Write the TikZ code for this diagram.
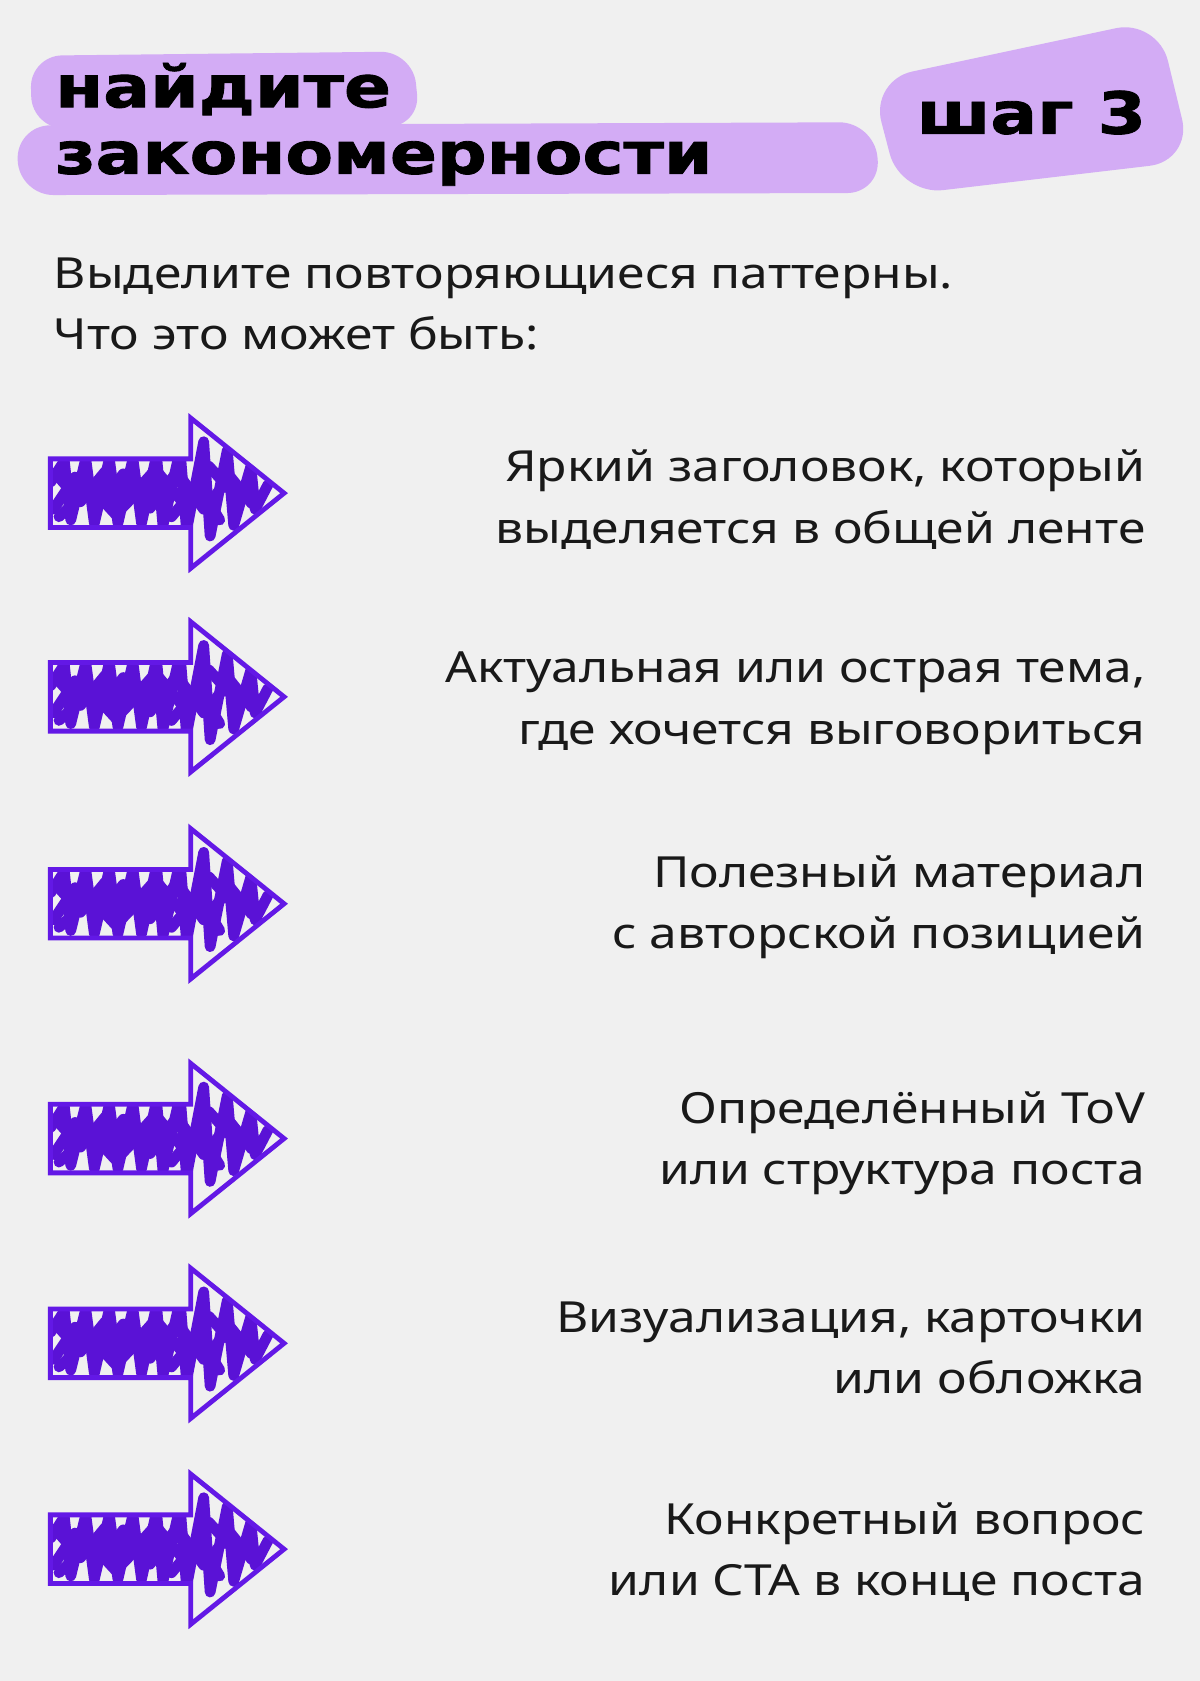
\documentclass[tikz,border=0pt]{standalone}
\usepackage{fontspec}
\setmainfont[FakeStretch=1.16]{Noto Sans}
\newfontfamily\headfont[FakeStretch=1.2,FakeBold=1.5]{DejaVu Sans}
\definecolor{bg}{HTML}{F0F0F0}
\definecolor{lil}{HTML}{D3ACF5}
\definecolor{vio}{HTML}{6318E6}
\definecolor{vio2}{HTML}{5A12D6}
\tikzset{x=1pt,y=-1pt,
 item/.style={anchor=east,align=right,font=\fontsize{40}{57}\selectfont,text=black!90},
 arr/.style={draw=vio,line width=4.5,line join=miter}}
\newcommand\myarrow[2]{%
 \begin{scope}[shift={(0,#1)}]
  \begin{scope}
   \clip (47,-32) -- (178,-32) -- (178,-70) -- (265,0) -- (178,70) -- (178,32) -- (47,32) -- cycle;
   \draw[vio2,line width=10,line join=round,line cap=round]
     (47,-10) -- (60,-30) -- (66,25) -- (80,-32) -- (88,28) -- (102,-32) -- (110,28) -- (124,-32) -- (132,28) -- (146,-35) -- (152,30) -- (168,-40) -- (174,35) -- (190,-48) -- (196,40) -- (212,-40) -- (218,30) -- (234,-25) -- (238,15) -- (250,-8);
   \draw[vio2,line width=10,line join=round,line cap=round] (50,15) -- (70,-15) -- (92,12) -- (115,-18) -- (140,14) -- (165,-20) -- (190,15) -- (215,-15) -- (235,10);
   \draw[vio2,line width=10,line join=round,line cap=round] (52,-18) -- (75,8) -- (98,-20) -- (120,6) -- (145,-22) -- (170,8) -- (195,-25) -- (222,5);
   \draw[vio2,line width=10,line join=round,line cap=round] (55,22) -- (85,-5) -- (108,20) -- (135,-8) -- (160,22) -- (185,-8) -- (205,25);
  \end{scope}
  \node[coordinate] (a#2) at (0,0) {};
  \draw[arr] (47,-32) -- (178,-32) -- (178,-70) -- (265,0) -- (178,70) -- (178,32) -- (47,32) -- cycle;
 \end{scope}}
\begin{document}
\begin{tikzpicture}
\useasboundingbox (0,0) rectangle (1119,1568);
\fill[bg] (0,0) rectangle (1119,1568);
% header blobs
\fill[lil,rounded corners=30] (28,52) -- (385,48) -- (392,118) -- (30,120) -- cycle;
\fill[lil,rounded corners=32] (15,117) -- (815,114) -- (822,180) -- (18,182) -- cycle;
\fill[lil,rounded corners=40] (812,75) -- (1080,18) -- (1112,150) -- (840,182) -- cycle;
\node[anchor=base west,font=\headfont\bfseries\fontsize{54}{60}\selectfont] (h1) at (48,100) {найдите};
\node[anchor=base west,font=\headfont\bfseries\fontsize{54}{60}\selectfont] (h2) at (48,162) {закономерности};
\node[font=\headfont\bfseries\fontsize{54}{60}\selectfont] (step) at (962,105) {шаг 3};
\node[anchor=north west,align=left,font=\fontsize{40}{57}\selectfont,text=black!90,inner sep=0] (intro) at (50,240) {Выделите повторяющиеся паттерны.\\Что это может быть:};
\myarrow{460}{1}
\myarrow{650}{2}
\myarrow{843}{3}
\myarrow{1062}{4}
\myarrow{1253}{5}
\myarrow{1445}{6}
\node[item] (t1) at (1072,466) {Яркий заголовок, который\\выделяется в общей ленте};
\node[item] (t2) at (1072,656) {Актуальная или острая тема,\\где хочется выговориться};
\node[item] (t3) at (1072,846) {Полезный материал\\с авторской позицией};
\node[item] (t4) at (1072,1066) {Определённый ToV\\или структура поста};
\node[item] (t5) at (1072,1257) {Визуализация, карточки\\или обложка};
\node[item] (t6) at (1072,1448) {Конкретный вопрос\\или CTA в конце поста};
\end{tikzpicture}
\end{document}
